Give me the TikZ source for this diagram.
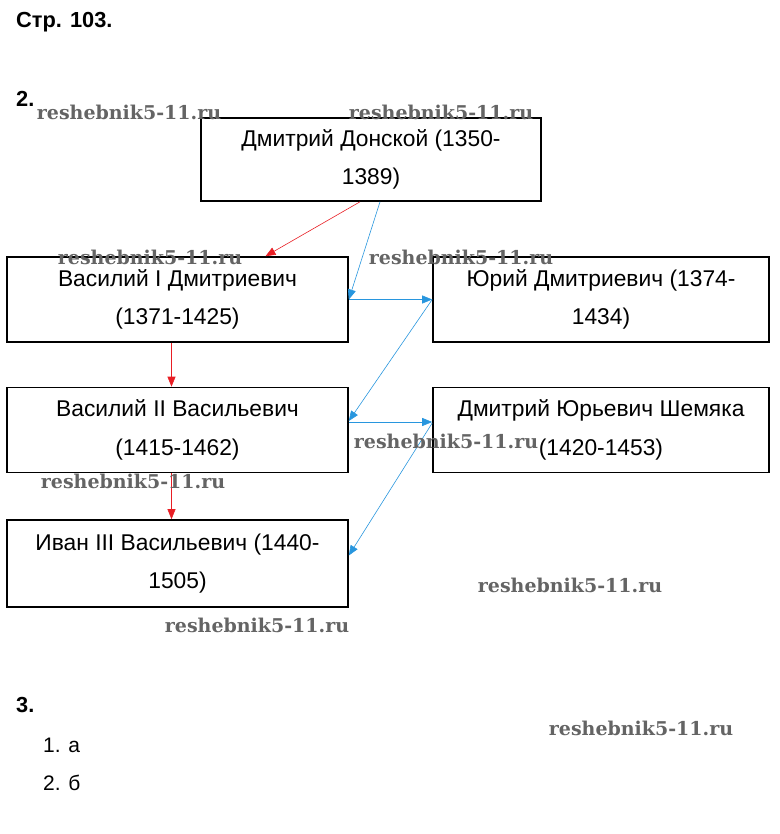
\documentclass[tikz,border=0pt]{standalone}
\usepackage{fontspec}
\setmainfont{Liberation Sans}
\newfontfamily\wmfont{DejaVu Serif}
\usetikzlibrary{arrows.meta}
\definecolor{linkred}{RGB}{232,30,36}
\definecolor{linkblue}{RGB}{40,150,222}
\definecolor{wmgray}{RGB}{100,100,100}

\begin{document}
\begin{tikzpicture}[x=1pt, y=-1pt,
    person/.style={draw, line width=1.6pt, inner sep=0pt, align=center,
      minimum width=341, minimum height=85, font=\fontsize{22.8}{38.5}\selectfont},
    heading/.style={anchor=west, inner sep=0pt, font=\bfseries\fontsize{21.8}{21.8}\selectfont},
    answer/.style={anchor=west, inner sep=0pt, font=\fontsize{21}{21}\selectfont},
    heir/.style={-{Triangle[length=10pt,width=8pt]}, linkred, line width=0.6pt},
    rival/.style={-{Triangle[length=10pt,width=8pt]}, linkblue, line width=0.6pt},
    wmark/.style={wmgray, inner sep=0pt, font=\wmfont\bfseries\fontsize{19}{19}\selectfont}]
  \useasboundingbox (0,0) rectangle (779,834);

  \node[heading] (title) at (16,22) {Стр. 103.};
  \node[heading] (task2) at (16,99) {2.};

  % the family tree
  \node[person, minimum width=340, minimum height=83] (donskoy) at (371,159.5) {Дмитрий Донской (1350-\\1389)};
  \node[person] (vasily1) at (177.5,299.5) {Василий I Дмитриевич\\(1371-1425)};
  \node[person, minimum width=336] (yury) at (601,299.5) {Юрий Дмитриевич (1374-\\1434)};
  \node[person] (vasily2) at (177.5,430) {Василий II Васильевич\\(1415-1462)};
  \node[person, minimum width=336] (shemyaka) at (601,430) {Дмитрий Юрьевич Шемяка\\(1420-1453)};
  \node[person, minimum height=87] (ivan) at (177.5,563.5) {Иван III Васильевич (1440-\\1505)};

  \draw[heir] ([xshift=-11]donskoy.south) -- ([xshift=88]vasily1.north);
  \draw[heir] ([xshift=-6]vasily1.south) -- ([xshift=-6]vasily2.north);
  \draw[heir] ([xshift=-6]vasily2.south) -- ([xshift=-6]ivan.north);

  \draw[rival] ([xshift=9]donskoy.south) -- (vasily1.east);
  \draw[rival] (vasily1.east) -- (yury.west);
  \draw[rival] (yury.west) -- ([yshift=9]vasily2.east);
  \draw[rival] ([yshift=8]vasily2.east) -- ([yshift=8]shemyaka.west);
  \draw[rival] ([yshift=7]shemyaka.west) -- ([yshift=8]ivan.east);

  \node[heading] (task3) at (16,705) {3.};
  \node[answer] (ans1) at (43,745) {1. а};
  \node[answer] (ans2) at (43,783) {2. б};

  % watermarks
  \foreach \wx/\wy [count=\i] in {129/112, 441/112, 150/257, 461/257, 446/441,
      133/481, 570/585, 257/625, 641/728}
    \node[wmark] (wm\i) at (\wx,\wy) {reshebnik5-11.ru};
\end{tikzpicture}
\end{document}
